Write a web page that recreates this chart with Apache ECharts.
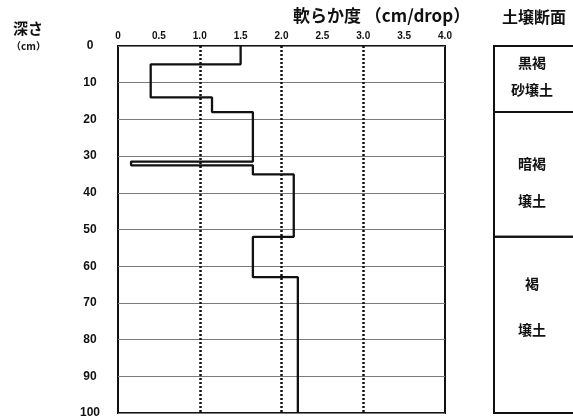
<!DOCTYPE html>
<html><head><meta charset="utf-8">
<script src="https://cdn.jsdelivr.net/npm/echarts@6/dist/echarts.min.js"></script>
<style>html,body{margin:0;padding:0;background:#fff}#c{width:573px;height:420px}</style>
</head><body><div id="c"></div>
<script>
// ---- data ----
const layerTop    = [0, 5, 14, 18, 31.5, 32.5, 35, 52, 63];
const layerBottom = [5, 14, 18, 31.5, 32.5, 35, 52, 63, 100];
const softness    = [1.5, 0.4, 1.15, 1.65, 0.16, 1.65, 2.15, 1.65, 2.2];
const xTickLabels = ['0','0.5','1.0','1.5','2.0','2.5','3.0','3.5','4.0'];
const yTickLabels = ['0','10','20','30','40','50','60','70','80','90','100'];
const dottedAt    = [1.0, 2.0, 3.0];
const horizonTop    = [0, 18, 52];
const horizonBottom = [18, 52, 100];
const soilText      = ['黒褐', '砂壌土', '暗褐', '壌土', '褐', '壌土'];
const soilTextDepth = [4.6, 12, 32.2, 42.2, 64.9, 77.4];

// ---- build ----
const profile = [];
softness.forEach((v, i) => { profile.push([v, layerTop[i]]); profile.push([v, layerBottom[i]]); });
const soilRects = horizonTop.map((t, i) => [t, horizonBottom[i]]);
const soilLabels = soilText.map((t, i) => [0.5, soilTextDepth[i], t]);

const CJK = '"Noto Sans CJK JP", sans-serif';
const NUM = '"Liberation Sans", Arial, sans-serif';

const chart = echarts.init(document.getElementById('c'), null, {renderer: 'canvas'});
chart.setOption({
  animation: false,
  backgroundColor: '#fff',
  grid: [
    {left: 118, top: 46, width: 327, height: 367, show: true, borderColor: '#111', borderWidth: 2, backgroundColor: 'transparent'},
    {left: 494, top: 46, width: 60, height: 367, show: false}
  ],
  xAxis: [
    {gridIndex: 0, type: 'value', position: 'top', min: 0, max: 4, interval: 0.5,
     axisLine: {show: false}, axisTick: {show: false}, splitLine: {show: false},
     axisLabel: {margin: 5, fontSize: 10, fontWeight: 'bold', color: '#111', fontFamily: NUM,
       formatter: v => xTickLabels[Math.round(v / 0.5)]}},
    {gridIndex: 1, type: 'value', min: 0, max: 1, show: false}
  ],
  yAxis: [
    {gridIndex: 0, type: 'value', inverse: true, min: 0, max: 100, interval: 10,
     axisLine: {show: false}, axisTick: {show: false},
     splitLine: {show: true, lineStyle: {color: '#7a7a7a', width: 1}},
     axisLabel: {margin: 28, align: 'center', fontSize: 12, fontWeight: 'bold', color: '#111', fontFamily: NUM,
       formatter: v => yTickLabels[Math.round(v / 10)]}},
    {gridIndex: 1, type: 'value', inverse: true, min: 0, max: 100, show: false}
  ],
  graphic: [
    {type: 'text', left: 13, top: 21, style: {text: '深さ', font: 'bold 15px ' + CJK, fill: '#111'}},
    {type: 'text', left: 11, top: 41, style: {text: '（cm）', font: 'bold 10px ' + CJK, fill: '#111'}},
    {type: 'text', left: 293, top: 7, style: {text: '軟らか度 （cm/drop）', font: 'bold 17px ' + CJK, fill: '#111'}},
    {type: 'text', left: 502, top: 9, style: {text: '土壌断面', font: 'bold 16px ' + CJK, fill: '#111'}}
  ],
  series: [
    {type: 'line', xAxisIndex: 0, yAxisIndex: 0, data: profile, showSymbol: false, symbol: 'none',
     lineStyle: {color: '#111', width: 2.3}, z: 5,
     markLine: {silent: true, symbol: 'none', label: {show: false},
       lineStyle: {color: '#111', type: [2, 2], width: 2.5},
       data: dottedAt.map(v => ({xAxis: v}))}},
    {type: 'custom', xAxisIndex: 1, yAxisIndex: 1, data: soilRects, clip: false,
     renderItem: (params, api) => {
       const p0 = api.coord([0, api.value(0)]);
       const p1 = api.coord([1, api.value(1)]);
       return {type: 'rect', shape: {x: p0[0], y: p0[1], width: 120, height: p1[1] - p0[1]},
         style: {fill: 'none', stroke: '#111', lineWidth: 2}};
     }},
    {type: 'custom', xAxisIndex: 1, yAxisIndex: 1, data: soilLabels, clip: false,
     renderItem: (params, api) => {
       const p = api.coord([0, api.value(1)]);
       return {type: 'text', x: 532, y: p[1],
         style: {text: soilText[params.dataIndex], font: 'bold 14px ' + CJK, fill: '#111', align: 'center', verticalAlign: 'middle'}};
     }}
  ]
});
</script></body></html>
